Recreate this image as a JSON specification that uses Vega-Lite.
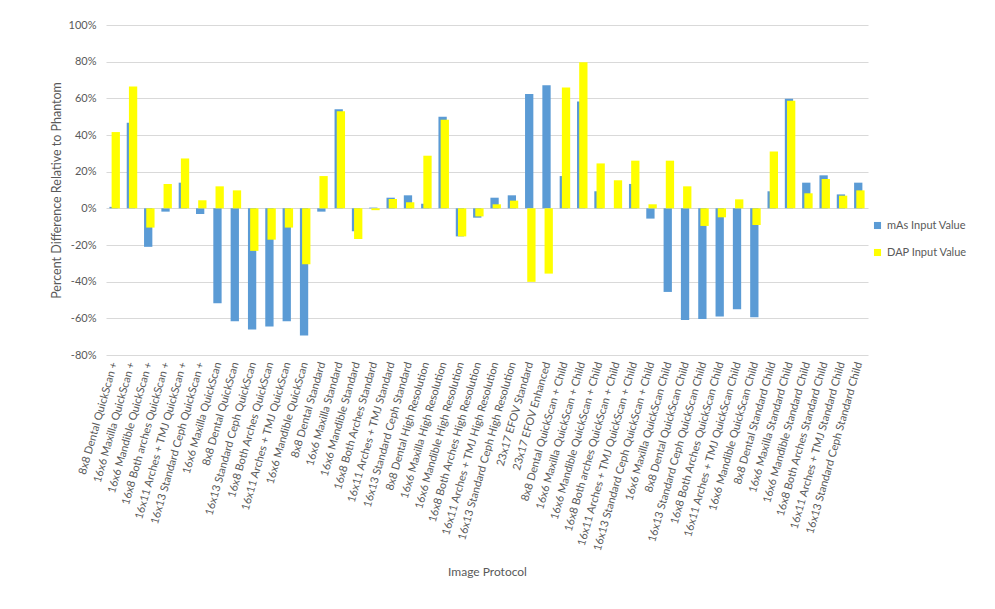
{
  "$schema": "https://vega.github.io/schema/vega-lite/v6.json",
  "width": 762,
  "height": 330,
  "autosize": {"type": "none"},
  "padding": {"left": 106, "top": 25, "right": 127, "bottom": 254},
  "background": "white",
  "config": {
    "view": {"stroke": null},
    "font": "Lato",
    "axis": {"labelColor": "#595959", "titleColor": "#595959", "labelFont": "Lato", "titleFont": "Lato", "titleFontWeight": "normal"},
    "legend": {"labelColor": "#595959", "labelFont": "Lato"}
  },
  "data": {
    "values": [
      {"protocol": "8x8 Dental QuickScan +", "series": "mAs Input Value", "value": 0.8},
      {"protocol": "8x8 Dental QuickScan +", "series": "DAP Input Value", "value": 41.6},
      {"protocol": "16x6 Maxilla QuickScan +", "series": "mAs Input Value", "value": 46.7},
      {"protocol": "16x6 Maxilla QuickScan +", "series": "DAP Input Value", "value": 66.5},
      {"protocol": "16x6 Mandible QuickScan +", "series": "mAs Input Value", "value": -21},
      {"protocol": "16x6 Mandible QuickScan +", "series": "DAP Input Value", "value": -10.5},
      {"protocol": "16x8 Both arches QuickScan +", "series": "mAs Input Value", "value": -1.8},
      {"protocol": "16x8 Both arches QuickScan +", "series": "DAP Input Value", "value": 13.3},
      {"protocol": "16x11 Arches + TMJ QuickScan +", "series": "mAs Input Value", "value": 14},
      {"protocol": "16x11 Arches + TMJ QuickScan +", "series": "DAP Input Value", "value": 27.2},
      {"protocol": "16x13 Standard Ceph QuickScan +", "series": "mAs Input Value", "value": -3.1},
      {"protocol": "16x13 Standard Ceph QuickScan +", "series": "DAP Input Value", "value": 4.4},
      {"protocol": "16x6 Maxilla QuickScan", "series": "mAs Input Value", "value": -51.8},
      {"protocol": "16x6 Maxilla QuickScan", "series": "DAP Input Value", "value": 12},
      {"protocol": "8x8 Dental QuickScan", "series": "mAs Input Value", "value": -61.6},
      {"protocol": "8x8 Dental QuickScan", "series": "DAP Input Value", "value": 9.8},
      {"protocol": "16x13 Standard Ceph QuickScan", "series": "mAs Input Value", "value": -66.1},
      {"protocol": "16x13 Standard Ceph QuickScan", "series": "DAP Input Value", "value": -23.2},
      {"protocol": "16x8 Both Arches QuickScan", "series": "mAs Input Value", "value": -64.5},
      {"protocol": "16x8 Both Arches QuickScan", "series": "DAP Input Value", "value": -17.1},
      {"protocol": "16x11 Arches + TMJ QuickScan", "series": "mAs Input Value", "value": -61.6},
      {"protocol": "16x11 Arches + TMJ QuickScan", "series": "DAP Input Value", "value": -10.5},
      {"protocol": "16x6 Mandible QuickScan", "series": "mAs Input Value", "value": -69.4},
      {"protocol": "16x6 Mandible QuickScan", "series": "DAP Input Value", "value": -30.5},
      {"protocol": "8x8 Dental Standard", "series": "mAs Input Value", "value": -1.8},
      {"protocol": "8x8 Dental Standard", "series": "DAP Input Value", "value": 17.6},
      {"protocol": "16x6 Maxilla Standard", "series": "mAs Input Value", "value": 54},
      {"protocol": "16x6 Maxilla Standard", "series": "DAP Input Value", "value": 52.9},
      {"protocol": "16x6 Mandible Standard", "series": "mAs Input Value", "value": -12.5},
      {"protocol": "16x6 Mandible Standard", "series": "DAP Input Value", "value": -16.7},
      {"protocol": "16x8 Both Arches Standard", "series": "mAs Input Value", "value": 0.4},
      {"protocol": "16x8 Both Arches Standard", "series": "DAP Input Value", "value": -1},
      {"protocol": "16x11 Arches + TMJ Standard", "series": "mAs Input Value", "value": 5.8},
      {"protocol": "16x11 Arches + TMJ Standard", "series": "DAP Input Value", "value": 5.1},
      {"protocol": "16x13 Standard Ceph Standard", "series": "mAs Input Value", "value": 7.1},
      {"protocol": "16x13 Standard Ceph Standard", "series": "DAP Input Value", "value": 3.3},
      {"protocol": "8x8 Dental High Resolution", "series": "mAs Input Value", "value": 2.5},
      {"protocol": "8x8 Dental High Resolution", "series": "DAP Input Value", "value": 28.7},
      {"protocol": "16x6 Maxilla High Resolution", "series": "mAs Input Value", "value": 50},
      {"protocol": "16x6 Maxilla High Resolution", "series": "DAP Input Value", "value": 48.3},
      {"protocol": "16x6 Mandible High Resolution", "series": "mAs Input Value", "value": -15.3},
      {"protocol": "16x6 Mandible High Resolution", "series": "DAP Input Value", "value": -15.3},
      {"protocol": "16x8 Both Arches High Resolution", "series": "mAs Input Value", "value": -5.1},
      {"protocol": "16x8 Both Arches High Resolution", "series": "DAP Input Value", "value": -4.4},
      {"protocol": "16x11 Arches + TMJ High Resolution", "series": "mAs Input Value", "value": 5.8},
      {"protocol": "16x11 Arches + TMJ High Resolution", "series": "DAP Input Value", "value": 2.2},
      {"protocol": "16x13 Standard Ceph High Resolution", "series": "mAs Input Value", "value": 7.1},
      {"protocol": "16x13 Standard Ceph High Resolution", "series": "DAP Input Value", "value": 4.2},
      {"protocol": "23x17 EFOV Standard", "series": "mAs Input Value", "value": 62.3},
      {"protocol": "23x17 EFOV Standard", "series": "DAP Input Value", "value": -40.1},
      {"protocol": "23x17 EFOV Enhanced", "series": "mAs Input Value", "value": 67.2},
      {"protocol": "23x17 EFOV Enhanced", "series": "DAP Input Value", "value": -35.6},
      {"protocol": "8x8 Dental QuickScan + Child", "series": "mAs Input Value", "value": 17.6},
      {"protocol": "8x8 Dental QuickScan + Child", "series": "DAP Input Value", "value": 65.9},
      {"protocol": "16x6 Maxilla QuickScan + Child", "series": "mAs Input Value", "value": 58.3},
      {"protocol": "16x6 Maxilla QuickScan + Child", "series": "DAP Input Value", "value": 79.7},
      {"protocol": "16x6 Mandible QuickScan + Child", "series": "mAs Input Value", "value": 9.3},
      {"protocol": "16x6 Mandible QuickScan + Child", "series": "DAP Input Value", "value": 24.5},
      {"protocol": "16x8 Both arches QuickScan + Child", "series": "mAs Input Value", "value": 0},
      {"protocol": "16x8 Both arches QuickScan + Child", "series": "DAP Input Value", "value": 15.3},
      {"protocol": "16x11 Arches + TMJ QuickScan + Child", "series": "mAs Input Value", "value": 13.3},
      {"protocol": "16x11 Arches + TMJ QuickScan + Child", "series": "DAP Input Value", "value": 26},
      {"protocol": "16x13 Standard Ceph QuickScan + Child", "series": "mAs Input Value", "value": -5.6},
      {"protocol": "16x13 Standard Ceph QuickScan + Child", "series": "DAP Input Value", "value": 2.2},
      {"protocol": "16x6 Maxilla QuickScan Child", "series": "mAs Input Value", "value": -45.6},
      {"protocol": "16x6 Maxilla QuickScan Child", "series": "DAP Input Value", "value": 26},
      {"protocol": "8x8 Dental QuickScan Child", "series": "mAs Input Value", "value": -60.9},
      {"protocol": "8x8 Dental QuickScan Child", "series": "DAP Input Value", "value": 12},
      {"protocol": "16x13 Standard Ceph QuickScan Child", "series": "mAs Input Value", "value": -60.3},
      {"protocol": "16x13 Standard Ceph QuickScan Child", "series": "DAP Input Value", "value": -9.6},
      {"protocol": "16x8 Both Arches QuickScan Child", "series": "mAs Input Value", "value": -59},
      {"protocol": "16x8 Both Arches QuickScan Child", "series": "DAP Input Value", "value": -4.9},
      {"protocol": "16x11 Arches + TMJ QuickScan Child", "series": "mAs Input Value", "value": -55},
      {"protocol": "16x11 Arches + TMJ QuickScan Child", "series": "DAP Input Value", "value": 4.9},
      {"protocol": "16x6 Mandible QuickScan Child", "series": "mAs Input Value", "value": -59.4},
      {"protocol": "16x6 Mandible QuickScan Child", "series": "DAP Input Value", "value": -9.1},
      {"protocol": "8x8 Dental Standard Child", "series": "mAs Input Value", "value": 9.3},
      {"protocol": "8x8 Dental Standard Child", "series": "DAP Input Value", "value": 31},
      {"protocol": "16x6 Maxilla Standard Child", "series": "mAs Input Value", "value": 59.8},
      {"protocol": "16x6 Maxilla Standard Child", "series": "DAP Input Value", "value": 58.7},
      {"protocol": "16x6 Mandible Standard Child", "series": "mAs Input Value", "value": 14},
      {"protocol": "16x6 Mandible Standard Child", "series": "DAP Input Value", "value": 8.2},
      {"protocol": "16x8 Both Arches Standard Child", "series": "mAs Input Value", "value": 18},
      {"protocol": "16x8 Both Arches Standard Child", "series": "DAP Input Value", "value": 16},
      {"protocol": "16x11 Arches + TMJ Standard Child", "series": "mAs Input Value", "value": 7.6},
      {"protocol": "16x11 Arches + TMJ Standard Child", "series": "DAP Input Value", "value": 6.9},
      {"protocol": "16x13 Standard Ceph Standard Child", "series": "mAs Input Value", "value": 14},
      {"protocol": "16x13 Standard Ceph Standard Child", "series": "DAP Input Value", "value": 9.8}
    ]
  },
  "encoding": {
    "x": {
      "field": "protocol",
      "type": "nominal",
      "sort": null,
      "scale": {"paddingInner": 0, "paddingOuter": 0},
      "axis": {
        "title": "Image Protocol",
        "titleFontSize": 12,
        "titleY": 216,
        "titleBaseline": "middle",
        "labelAngle": -74,
        "labelAlign": "right",
        "labelBaseline": "middle",
        "labelFontSize": 11,
        "labelPadding": 7,
        "labelLimit": 300,
        "domain": false,
        "ticks": false,
        "grid": false
      }
    },
    "y": {
      "field": "value",
      "type": "quantitative",
      "scale": {"domain": [-80, 100], "nice": false},
      "axis": {
        "title": "Percent Difference Relative to Phantom",
        "titleFontSize": 12.5,
        "titleX": -50,
        "titleY": 165,
        "titleAngle": -90,
        "titleAlign": "center",
        "titleBaseline": "middle",
        "values": [-80, -60, -40, -20, 0, 20, 40, 60, 80, 100],
        "labelExpr": "datum.value + '%'",
        "labelFontSize": 11,
        "labelPadding": 10,
        "domain": false,
        "ticks": false,
        "gridColor": "#d9d9d9",
        "gridWidth": 1
      }
    },
    "color": {
      "field": "series",
      "type": "nominal",
      "scale": {"domain": ["mAs Input Value", "DAP Input Value"], "range": ["#5b9bd5", "#ffff00"]},
      "legend": {
        "title": null,
        "orient": "none",
        "legendX": 766,
        "legendY": 195,
        "symbolType": "square",
        "symbolSize": 50,
        "symbolStrokeWidth": 0,
        "labelFontSize": 11,
        "rowPadding": 15,
        "padding": 0
      }
    }
  },
  "layer": [
    {
      "transform": [{"filter": "datum.series === 'mAs Input Value'"}],
      "mark": {"type": "bar", "width": 8.3, "xOffset": -1.1}
    },
    {
      "transform": [{"filter": "datum.series === 'DAP Input Value'"}],
      "mark": {"type": "bar", "width": 8.3, "xOffset": 1.1}
    }
  ]
}
